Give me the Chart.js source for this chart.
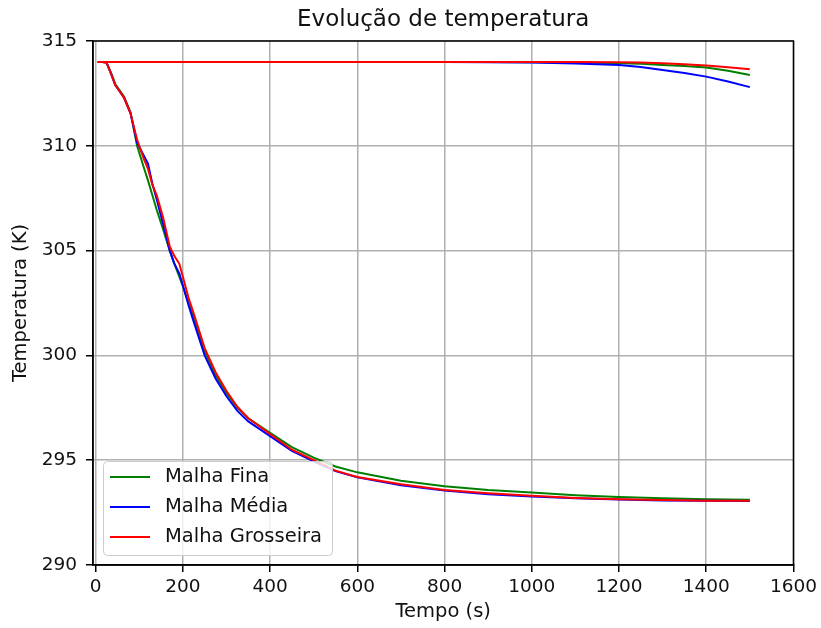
<!DOCTYPE html>
<html>
<head>
<meta charset="utf-8">
<script src="https://cdn.jsdelivr.net/npm/chart.js@4.4.1/dist/chart.umd.min.js"></script>
<style>
  body { margin: 0; background: #fff; }
  canvas { display: block; }
</style>
</head>
<body>
<canvas id="tempChart" width="821" height="628"></canvas>
<script>
// tempo (s) das curvas de resfriamento
const tempo = [5, 15, 25, 35, 45, 55, 65, 80, 95, 110, 120, 130, 140, 155, 170, 180, 192, 200, 213, 225,
               250, 275, 300, 325, 350, 400, 450, 500, 550, 600, 700, 800, 900, 1000, 1100, 1200, 1300, 1400, 1500];

const fina = [314.00, 314.00, 313.97, 313.50, 312.95, 312.65, 312.35, 311.60, 310.00, 309.00, 308.35, 307.65, 306.95, 306.00, 305.00, 304.40, 303.75, 303.30, 302.50, 301.80,
              300.20, 299.05, 298.20, 297.50, 297.00, 296.30, 295.62, 295.12, 294.70, 294.42, 294.02, 293.76, 293.58, 293.46, 293.33, 293.24, 293.18, 293.14, 293.11];
const media = [314.00, 314.00, 313.97, 313.45, 312.90, 312.60, 312.30, 311.55, 310.15, 309.55, 309.15, 308.20, 307.45, 306.25, 305.00, 304.40, 303.90, 303.35, 302.40, 301.60,
               300.00, 298.90, 298.05, 297.35, 296.85, 296.15, 295.45, 294.95, 294.48, 294.18, 293.80, 293.55, 293.38, 293.27, 293.18, 293.12, 293.08, 293.06, 293.05];
const grosseira = [314.00, 314.00, 313.97, 313.45, 312.90, 312.60, 312.30, 311.55, 310.30, 309.40, 308.90, 308.15, 307.65, 306.55, 305.20, 304.76, 304.37, 303.75, 302.75, 302.00,
                   300.35, 299.20, 298.30, 297.55, 297.00, 296.25, 295.50, 295.00, 294.50, 294.20, 293.85, 293.58, 293.42, 293.30, 293.20, 293.14, 293.10, 293.07, 293.06];

// curvas superiores (ponto que quase não resfria)
const tempoSup = [5, 200, 400, 600, 800, 900, 1000, 1100, 1200, 1250, 1300, 1350, 1400, 1450, 1500];
const finaSup = [314.00, 314.00, 314.00, 314.00, 314.00, 314.00, 313.99, 313.98, 313.94, 313.91, 313.86, 313.81, 313.74, 313.58, 313.38];
const mediaSup = [314.00, 314.00, 314.00, 314.00, 314.00, 313.99, 313.97, 313.93, 313.86, 313.76, 313.62, 313.47, 313.30, 313.07, 312.80];
const grosseiraSup = [314.00, 314.00, 314.00, 314.00, 314.00, 314.00, 314.00, 314.00, 313.99, 313.97, 313.94, 313.89, 313.83, 313.75, 313.65];

const rotulos = ['Malha Fina', 'Malha Média', 'Malha Grosseira'];
const cores = ['#008000', '#0000ff', '#ff0000'];

const xTicks = [0, 200, 400, 600, 800, 1000, 1200, 1400, 1600];
const yTicks = [290, 295, 300, 305, 310, 315];

const FONT = 'DejaVu Sans';
const TEXTO = '#111';

function pares(ts, vs) {
    return ts.map((t, i) => ({ x: t, y: vs[i] }));
}

function serie(label, cor, dados, ordem, legenda) {
    return {
        label: label,
        data: dados,
        xAxisID: 'x',
        borderColor: cor,
        backgroundColor: cor,
        borderWidth: 2,
        pointRadius: 0,
        tension: 0,
        fill: false,
        order: ordem,
        noLegend: !legenda
    };
}

const datasets = [
    serie(rotulos[0], cores[0], pares(tempo, fina), 2, true),
    serie(rotulos[0], cores[0], pares(tempoSup, finaSup), 2, false),
    serie(rotulos[1], cores[1], pares(tempo, media), 1, true),
    serie(rotulos[1], cores[1], pares(tempoSup, mediaSup), 1, false),
    serie(rotulos[2], cores[2], pares(tempo, grosseira), 0, true),
    serie(rotulos[2], cores[2], pares(tempoSup, grosseiraSup), 0, false)
];

// moldura completa (eixos de cima e da direita)
const moldura = {
    id: 'moldura',
    afterDraw(chart) {
        const { ctx, chartArea: a } = chart;
        ctx.save();
        ctx.strokeStyle = '#000';
        ctx.lineWidth = 1.5;
        ctx.strokeRect(a.left, a.top, a.right - a.left, a.bottom - a.top);
        ctx.restore();
    }
};

// legenda no canto inferior esquerdo, dentro do gráfico
const legendaCaixa = {
    id: 'legendaCaixa',
    afterDraw(chart) {
        const { ctx, chartArea: a } = chart;
        const itens = chart.data.datasets.filter(d => !d.noLegend);
        const x0 = a.left + 10, w = 229, h = 94;
        const y0 = a.bottom - 10 - h;
        ctx.save();
        ctx.fillStyle = 'rgba(255,255,255,0.8)';
        ctx.strokeStyle = '#cccccc';
        ctx.lineWidth = 1;
        ctx.beginPath();
        ctx.roundRect(x0 + 0.5, y0 + 0.5, w, h, 4);
        ctx.fill();
        ctx.stroke();
        ctx.font = '19.5px "' + FONT + '"';
        ctx.textBaseline = 'middle';
        itens.forEach((d, i) => {
            const y = y0 + 16 + i * 30;
            ctx.strokeStyle = d.borderColor;
            ctx.lineWidth = 2;
            ctx.beginPath();
            ctx.moveTo(x0 + 7, y);
            ctx.lineTo(x0 + 47, y);
            ctx.stroke();
            ctx.fillStyle = TEXTO;
            ctx.fillText(d.label, x0 + 62, y);
        });
        ctx.restore();
    }
};

const grade = { color: '#b0b0b0', lineWidth: 1.5, tickColor: '#000', tickLength: 7, tickWidth: 1.5 };

new Chart(document.getElementById('tempChart').getContext('2d'), {
    type: 'line',
    data: { datasets: datasets },
    options: {
        responsive: false,
        animation: false,
        layout: { padding: { left: 0, right: 24, top: 0, bottom: 0 } },
        plugins: {
            legend: { display: false },
            tooltip: { enabled: false },
            title: { display: false }
        },
        scales: {
            // eixo superior só para centralizar o título sobre a área do gráfico
            topo: {
                type: 'linear',
                position: 'top',
                min: -6,
                max: 1600,
                afterFit: s => { s.height = 41; },
                ticks: { display: false },
                grid: { display: false, drawTicks: false },
                border: { display: false },
                title: {
                    display: true,
                    text: 'Evolução de temperatura',
                    color: TEXTO,
                    font: { family: FONT, size: 23 },
                    padding: { top: 6, bottom: 0 }
                }
            },
            x: {
                type: 'linear',
                position: 'bottom',
                min: -6,
                max: 1600,
                afterBuildTicks: s => { s.ticks = xTicks.map(v => ({ value: v })); },
                afterFit: s => { s.height = 63; },
                ticks: {
                    color: TEXTO,
                    padding: 4,
                    maxRotation: 0,
                    font: { family: FONT, size: 18.5 },
                    callback: v => String(v)
                },
                grid: grade,
                border: { color: '#000', width: 1.5 },
                title: {
                    display: true,
                    text: 'Tempo (s)',
                    color: TEXTO,
                    font: { family: FONT, size: 19.5 },
                    padding: { top: 0, bottom: 4 }
                }
            },
            y: {
                type: 'linear',
                min: 290,
                max: 315,
                afterBuildTicks: s => { s.ticks = yTicks.map(v => ({ value: v })); },
                afterFit: s => { s.width = 93; },
                ticks: {
                    color: TEXTO,
                    padding: 9,
                    font: { family: FONT, size: 18.5 },
                    callback: v => String(v)
                },
                grid: grade,
                border: { color: '#000', width: 1.5 },
                title: {
                    display: true,
                    text: 'Temperatura (K)',
                    color: TEXTO,
                    font: { family: FONT, size: 19.5 },
                    padding: { top: 9, bottom: 0 }
                }
            }
        }
    },
    plugins: [moldura, legendaCaixa]
});
</script>
</body>
</html>
